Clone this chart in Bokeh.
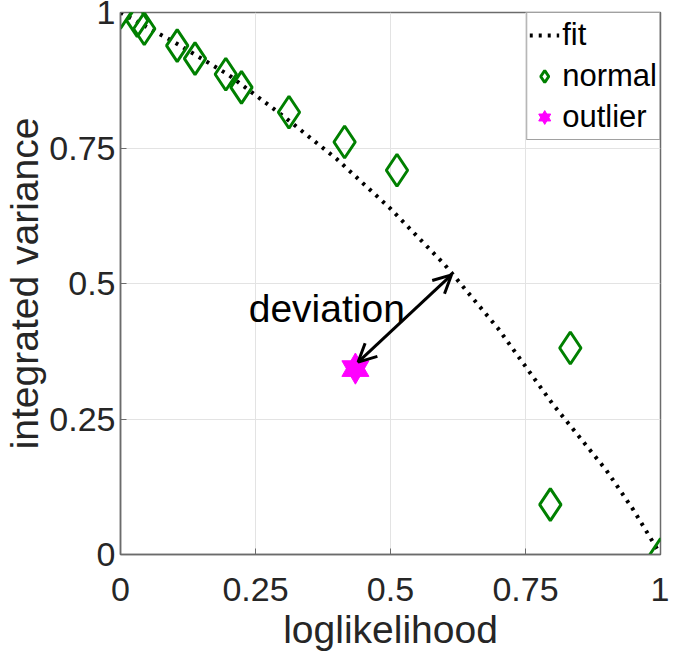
from bokeh.plotting import figure
from bokeh.models import (Range1d, FixedTicker, Legend, LegendItem,
                          Arrow, OpenHead, Label)
from bokeh.embed import file_html
from bokeh.resources import INLINE

# ---- data ----
normal_x = [0.0, 0.031, 0.044, 0.105, 0.138, 0.195, 0.224, 0.312, 0.415, 0.512, 0.833, 0.796, 1.0]
normal_y = [1.0, 0.985, 0.970, 0.939, 0.915, 0.886, 0.862, 0.816, 0.761, 0.709, 0.381, 0.092, 0.0]
outlier_x = [0.435]
outlier_y = [0.343]
fit_x = [0.0, 0.1, 0.2, 0.3, 0.4, 0.5, 0.6, 0.7, 0.8, 0.9, 0.95, 1.0]
fit_y = [1.0, 0.945, 0.885, 0.81, 0.73, 0.638, 0.535, 0.416, 0.278, 0.155, 0.082, 0.0]
arrow_start = [0.440, 0.355]
arrow_end = [0.613, 0.516]
deviation_pos = [0.382, 0.453]
ticks = [0, 0.25, 0.5, 0.75, 1]
tick_labels = ["0", "0.25", "0.5", "0.75", "1"]
x_title = "loglikelihood"
y_title = "integrated variance"

FONT = "Liberation Sans"
AX_COLOR = "#262626"
FRAME_COLOR = "#6b6b6b"

p = figure(width=669, height=653, x_range=Range1d(0, 1), y_range=Range1d(0, 1),
           output_backend="svg", toolbar_location=None,
           min_border_left=115, min_border_right=9,
           min_border_top=12, min_border_bottom=98,
           background_fill_color="white", border_fill_color="white")
p.outline_line_color = FRAME_COLOR
p.outline_line_width = 1.5

overrides = {t: l for t, l in zip(ticks, tick_labels)}
for ax in (p.xaxis[0], p.yaxis[0]):
    ax.ticker = FixedTicker(ticks=ticks)
    ax.major_label_overrides = overrides
    ax.major_label_text_font = FONT
    ax.major_label_text_font_size = "34px"
    ax.major_label_text_color = AX_COLOR
    ax.axis_label_text_font = FONT
    ax.axis_label_text_font_size = "39px"
    ax.axis_label_text_font_style = "normal"
    ax.axis_label_text_color = AX_COLOR
    ax.axis_line_color = FRAME_COLOR
    ax.axis_line_width = 1.5
    ax.major_tick_in = 6
    ax.major_tick_out = 0
    ax.major_tick_line_color = FRAME_COLOR
    ax.minor_tick_line_color = None

p.xaxis[0].axis_label = x_title
p.yaxis[0].axis_label = y_title
p.xaxis[0].major_label_standoff = 23
p.xaxis[0].axis_label_standoff = 4
p.yaxis[0].major_label_standoff = 5
p.yaxis[0].axis_label_standoff = 0

p.xgrid.ticker = FixedTicker(ticks=ticks)
p.ygrid.ticker = FixedTicker(ticks=ticks)
p.xgrid.grid_line_color = "#e3e3e3"
p.ygrid.grid_line_color = "#e3e3e3"

r_fit = p.line(fit_x, fit_y, line_color="black", line_width=4, line_dash="3 6")
r_norm = p.scatter(normal_x, normal_y, marker="diamond", size=32,
                   line_color="#008000", line_width=3, fill_color=None)
r_t1 = p.scatter(outlier_x, outlier_y, marker="triangle", size=27,
                 fill_color="#ff00ff", line_color="#ff00ff")
r_t2 = p.scatter(outlier_x, outlier_y, marker="inverted_triangle", size=27,
                 fill_color="#ff00ff", line_color="#ff00ff")

p.add_layout(Arrow(x_start=arrow_start[0], y_start=arrow_start[1],
                   x_end=arrow_end[0], y_end=arrow_end[1],
                   start=OpenHead(size=18, line_width=3, line_color="black"),
                   end=OpenHead(size=18, line_width=3, line_color="black"),
                   line_width=3, line_color="black"))

p.add_layout(Label(x=deviation_pos[0], y=deviation_pos[1], text="deviation",
                   text_align="center", text_baseline="alphabetic",
                   text_font=FONT, text_font_size="39px", text_color="black"))

legend = Legend(items=[LegendItem(label="fit", renderers=[r_fit]),
                       LegendItem(label="normal", renderers=[r_norm]),
                       LegendItem(label="outlier", renderers=[r_t1, r_t2])],
                location="top_right", margin=0, padding=2, spacing=1,
                glyph_width=30, glyph_height=40, label_standoff=3,
                label_text_font=FONT, label_text_font_size="31px",
                label_text_color="black", border_line_color="#444444",
                border_line_width=1.5, background_fill_color="white",
                background_fill_alpha=1)
p.add_layout(legend)

open("out.html", "w").write(file_html(p, INLINE))
